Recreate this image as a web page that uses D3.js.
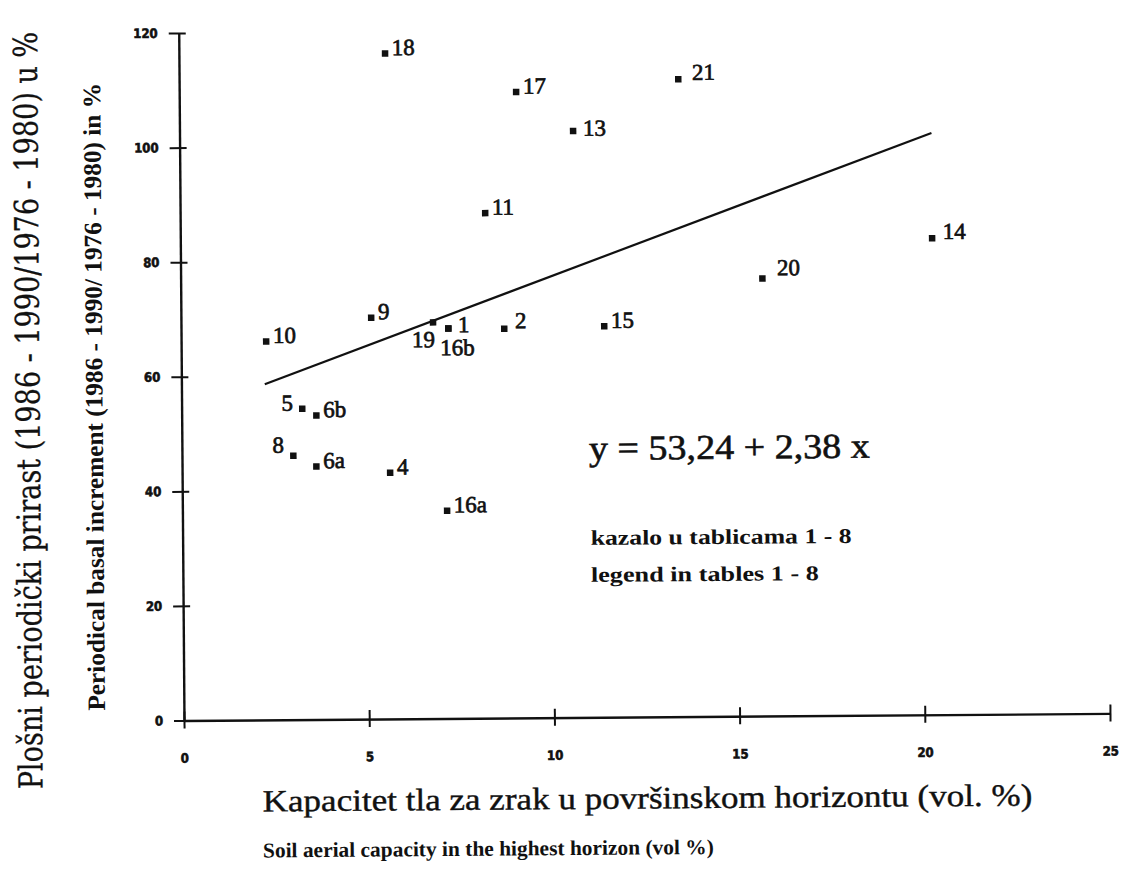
<!DOCTYPE html>
<html>
<head>
    <meta charset="utf-8">
    <title>Plošni periodički prirast</title>
    <script src="https://d3js.org/d3.v7.min.js"></script>
    <style>
        body {
            margin: 0;
            background: #fff;
        }

        .tick text {
            font-family: "DejaVu Sans", sans-serif;
            font-weight: bold;
            font-stretch: condensed;
            font-size: 13px;
            fill: #111;
            stroke: #111;
            stroke-width: 0.6px;
        }
    </style>
</head>
<body>
    <div id="chart"></div>
    <script>

        // points: soil aerial capacity (x) vs periodical basal increment (y)
        const pointIds = ["1", "2", "4", "5", "6a", "6b", "8", "9", "10", "11", "13", "14", "15", "16a", "16b", "17", "18", "19", "20", "21"];
        const capacity = [7.21, 8.72, 5.61, 3.25, 3.62, 3.63, 3.00, 5.13, 2.29, 8.23, 10.62, 20.29, 11.42, 7.14, 7.21, 9.09, 5.56, 6.80, 15.70, 13.47];
        const increment = [68.1, 68.0, 43.0, 54.3, 44.2, 53.1, 46.1, 70.1, 66.1, 88.2, 102.4, 83.2, 68.3, 36.3, 68.1, 109.3, 116.2, 69.2, 76.4, 111.3];

        // regression y = 53,24 + 2,38 x
        const regIntercept = 53.24;
        const regSlope = 2.38;
        const regRange = [2.25, 20.3];

        const xTicks = [0, 5, 10, 15, 20, 25];
        const yTicks = [0, 20, 40, 60, 80, 100, 120];

        const W = 1126, H = 878;
        const x0 = 184, x1 = 1110, y0 = 720.5, y1 = 33;

        const svg = d3.select("#chart")
            .append("svg")
            .attr("width", W)
            .attr("height", H);

        // the scanned page is a little tilted
        const g = svg.append("g")
            .attr("transform", `rotate(-0.44, ${x0}, ${y0})`);

        const x = d3.scaleLinear().domain([0, 25]).range([x0, x1]);
        const y = d3.scaleLinear().domain([0, 120]).range([y0, y1]);

        // X axis
        const xAxis = g.append("g")
            .attr("transform", `translate(0, ${y0})`)
            .call(d3.axisBottom(x).tickValues(xTicks).tickSizeOuter(0).tickPadding(27));
        xAxis.select(".domain").attr("stroke", "#111").attr("stroke-width", 2.4);
        xAxis.selectAll(".tick line").attr("y1", -9).attr("y2", 8).attr("stroke", "#111").attr("stroke-width", 2);

        // Y axis
        const yAxis = g.append("g")
            .attr("transform", `translate(${x0}, 0)`)
            .call(d3.axisLeft(y).tickValues(yTicks).tickSizeOuter(0).tickPadding(15));
        yAxis.select(".domain").attr("stroke", "#111").attr("stroke-width", 2.4);
        yAxis.selectAll(".tick line").attr("x1", -10).attr("x2", 7).attr("stroke", "#111").attr("stroke-width", 2);

        // regression line
        g.append("line")
            .attr("x1", x(regRange[0]))
            .attr("y1", y(regIntercept + regSlope * regRange[0]))
            .attr("x2", x(regRange[1]))
            .attr("y2", y(regIntercept + regSlope * regRange[1]))
            .attr("stroke", "#111")
            .attr("stroke-width", 2.2);

        const data = pointIds.map((id, i) => ({ id: id, cx: capacity[i], cy: increment[i] }));

        // points
        g.selectAll("rect.pt")
            .data(data)
            .join("rect")
            .attr("class", "pt")
            .attr("x", d => x(d.cx) - 3)
            .attr("y", d => y(d.cy) - 3)
            .attr("width", 6.5)
            .attr("height", 6.5)
            .attr("fill", "#111");

        // where the label sits next to its point
        const labelPlace = {
            "5": { dx: -9, dy: 2, anchor: "end" },
            "8": { dx: -9, dy: -3, anchor: "end" },
            "19": { dx: 2, dy: 25, anchor: "end" },
            "16b": { dx: -8, dy: 27, anchor: "start" },
            "1": { dx: 10, dy: 4, anchor: "start" },
            "2": { dx: 11, dy: 0, anchor: "start" },
            "13": { dx: 10, dy: 5, anchor: "start" },
            "14": { dx: 11, dy: 1, anchor: "start" },
            "20": { dx: 15, dy: -3, anchor: "start" },
            "21": { dx: 14, dy: 1, anchor: "start" }
        };

        g.selectAll("text.lbl")
            .data(data)
            .join("text")
            .attr("class", "lbl")
            .attr("x", d => x(d.cx) + (labelPlace[d.id] ? labelPlace[d.id].dx : 7))
            .attr("y", d => y(d.cy) + (labelPlace[d.id] ? labelPlace[d.id].dy : 2))
            .attr("text-anchor", d => labelPlace[d.id] ? labelPlace[d.id].anchor : "start")
            .style("font-family", "'Liberation Serif', serif")
            .style("font-size", "23px")
            .style("fill", "#111")
            .style("stroke", "#111")
            .style("stroke-width", "0.7px")
            .text(d => d.id);

        // squeeze a text to a given length by scaling it along its baseline
        function fitText(x, y, angle, len, txt, font, size, weight, stroke) {
            const t = g.append("text")
                .style("font-family", font)
                .style("font-size", size + "px")
                .style("font-weight", weight)
                .style("fill", "#111")
                .text(txt);
            if (stroke) t.style("stroke", "#111").style("stroke-width", stroke + "px");
            const k = len / t.node().getComputedTextLength();
            t.attr("transform", `translate(${x}, ${y}) rotate(${angle}) scale(${k}, 1)`);
            return t;
        }

        // equation and notes
        fitText(591, 463, 0, 281, "y = 53,24 + 2,38 x", "'Liberation Serif', serif", 35, "normal", 0.6);
        fitText(592, 548, 0, 261, "kazalo u tablicama 1 - 8", "'Liberation Serif', serif", 21, "bold", 0);
        fitText(592, 585, 0, 228, "legend in tables 1 - 8", "'Liberation Serif', serif", 21, "bold", 0);

        // axis titles
        fitText(262, 812, 0, 770, "Kapacitet tla za zrak u površinskom horizontu (vol. %)", "'Liberation Serif', serif", 31, "normal", 0.4);
        fitText(262, 858, 0, 451, "Soil aerial capacity in the highest horizon (vol %)", "'Liberation Serif', serif", 21, "bold", 0);
        fitText(42, 788, -90, 758, "Plošni periodički prirast (1986 - 1990/1976 - 1980) u %", "'DejaVu Serif', serif", 33, "normal", 0.3);
        fitText(105, 710, -90, 628, "Periodical basal increment (1986 - 1990/ 1976 - 1980) in %", "'Liberation Serif', serif", 25, "bold", 0);

    </script>
</body>
</html>
